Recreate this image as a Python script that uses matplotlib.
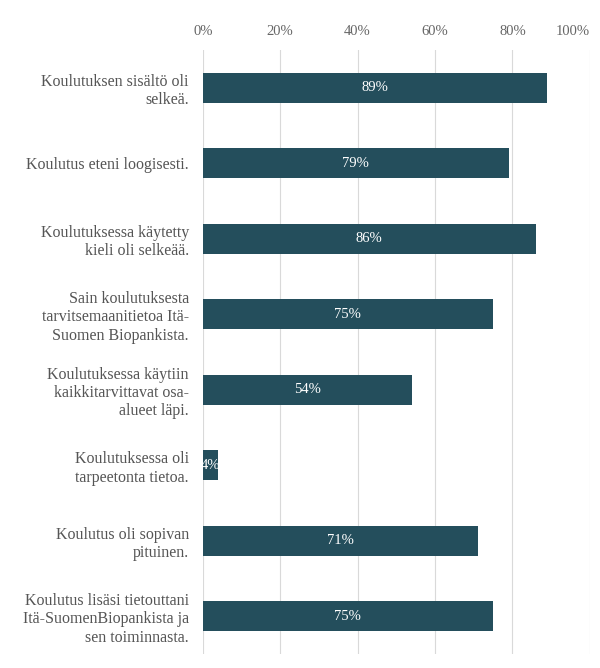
import numpy as np
import matplotlib.pyplot as plt

plt.rcParams['font.family'] = ['Liberation Serif', 'DejaVu Serif']

categories = [
    'Koulutuksen sisältö oli\nselkeä.',
    'Koulutus eteni loogisesti.',
    'Koulutuksessa käytetty\nkieli oli selkeää.',
    'Sain koulutuksesta\ntarvitsemaanitietoa Itä-\nSuomen Biopankista.',
    'Koulutuksessa käytiin\nkaikkitarvittavat osa-\nalueet läpi.',
    'Koulutuksessa oli\ntarpeetonta tietoa.',
    'Koulutus oli sopivan\npituinen.',
    'Koulutus lisäsi tietouttani\nItä-SuomenBiopankista ja\nsen toiminnasta.',
]
values = [89, 79, 86, 75, 54, 4, 71, 75]
ticks = [0, 20, 40, 60, 80, 100]

fig = plt.figure(figsize=(6, 6.68), dpi=100)
ax = fig.add_axes([0.338, 0.021, 0.645, 0.904])

y = np.arange(len(categories))
bars = ax.barh(y, values, height=0.4, color='#244e5c', zorder=3)
for b, v in zip(bars, values):
    ax.text(b.get_width() / 2, b.get_y() + b.get_height() / 2, f'{v}%',
            ha='center', va='center', color='white', fontsize=10.5, zorder=4)

ax.set_xlim(0, 100)
ax.set_ylim(len(categories) - 0.5, -0.5)
ax.set_xticks(ticks)
ax.set_xticklabels([f'{t}%' for t in ticks], color='#666666', fontsize=10.5)
ax.xaxis.tick_top()
ax.tick_params(axis='x', length=0, pad=9)
ax.set_yticks(y)
ax.set_yticklabels(categories, fontsize=11.5, color='#555555', ha='right',
                   multialignment='right')
ax.tick_params(axis='y', length=0, pad=10)
ax.grid(axis='x', color='#d9d9d9', linewidth=0.8, zorder=0)
for s in ax.spines.values():
    s.set_visible(False)

# keep the last tick label inside the figure
ax.xaxis.get_major_ticks()[-1].label2.set_horizontalalignment('right')

fig.savefig('out.png', dpi=100)
